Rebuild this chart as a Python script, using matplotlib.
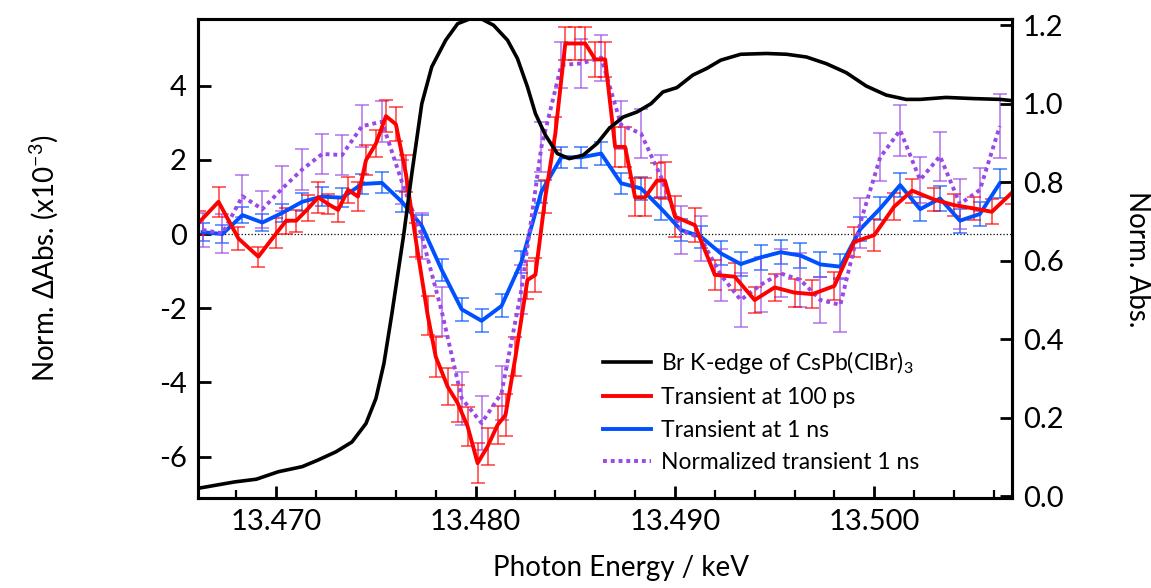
import numpy as np
import matplotlib
matplotlib.use("Agg")
import matplotlib.pyplot as plt
from matplotlib.ticker import MultipleLocator, FormatStrFormatter

plt.rcParams['font.family'] = ['Lato', 'DejaVu Sans']
plt.rcParams['mathtext.fontset'] = 'custom'
plt.rcParams['mathtext.rm'] = 'Lato'
plt.rcParams['mathtext.default'] = 'regular'
plt.rcParams['axes.unicode_minus'] = False

# Br K-edge static absorption (right axis)
E_edge = [13.4661, 13.4679, 13.4690, 13.4701, 13.4713, 13.4721, 13.4730, 13.4738,
          13.4745, 13.4750, 13.4754, 13.4758, 13.4764, 13.4768, 13.4773, 13.4778,
          13.4785, 13.4791, 13.4797, 13.4803, 13.4809, 13.4816, 13.4821, 13.4826,
          13.4830, 13.4835, 13.4841, 13.4847, 13.4854, 13.4861, 13.4867, 13.4874,
          13.4881, 13.4888, 13.4894, 13.4901, 13.4909, 13.4916, 13.4923, 13.4933,
          13.4946, 13.4956, 13.4966, 13.4976, 13.4986, 13.4996, 13.5006, 13.5016,
          13.5023, 13.5036, 13.5050, 13.5063, 13.5069]
A_edge = [0.020, 0.036, 0.043, 0.062, 0.075, 0.092, 0.113, 0.138,
          0.185, 0.249, 0.338, 0.465, 0.669, 0.822, 1.000, 1.094,
          1.162, 1.204, 1.216, 1.216, 1.200, 1.162, 1.115, 1.043,
          0.975, 0.920, 0.873, 0.860, 0.869, 0.899, 0.937, 0.966,
          0.979, 1.000, 1.030, 1.041, 1.073, 1.090, 1.111, 1.126,
          1.128, 1.126, 1.119, 1.102, 1.079, 1.045, 1.022, 1.011,
          1.011, 1.016, 1.013, 1.011, 1.008]

# transient at 100 ps
E_100ps = [13.4661, 13.4671, 13.4681, 13.4691, 13.4700, 13.4705, 13.4710, 13.4716,
           13.4721, 13.4726, 13.4731, 13.4736, 13.4741, 13.4745, 13.4750, 13.4755,
           13.4760, 13.4765, 13.4770, 13.4776, 13.4780, 13.4786, 13.4791, 13.4796,
           13.4801, 13.4806, 13.4811, 13.4815, 13.4820, 13.4826, 13.4830, 13.4835,
           13.4840, 13.4845, 13.4850, 13.4855, 13.4860, 13.4865, 13.4870, 13.4875,
           13.4880, 13.4885, 13.4891, 13.4895, 13.4900, 13.4910, 13.4920, 13.4930,
           13.4940, 13.4950, 13.4960, 13.4969, 13.4980, 13.4990, 13.5000, 13.5010,
           13.5019, 13.5030, 13.5040, 13.5050, 13.5059, 13.5069]
dA_100ps = [0.30, 0.87, -0.12, -0.61, 0.02, 0.36, 0.36, 0.69,
            0.99, 0.81, 0.65, 1.19, 1.01, 1.99, 2.44, 3.18,
            2.96, 1.63, -0.16, -2.20, -3.31, -4.12, -4.56, -5.19,
            -6.18, -5.73, -5.15, -4.88, -3.31, -1.24, -1.10, 1.01,
            2.71, 5.14, 5.14, 5.14, 4.71, 4.71, 2.35, 2.35,
            0.99, 0.99, 1.44, 1.44, 0.47, 0.24, -1.10, -1.15,
            -1.78, -1.44, -1.58, -1.62, -1.40, -0.21, -0.03, 0.74,
            1.17, 0.93, 0.78, 0.69, 0.60, 1.11]
err_100ps = [0.32, 0.40, 0.30, 0.27, 0.40, 0.35, 0.30, 0.35,
             0.42, 0.28, 0.32, 0.36, 0.40, 0.40, 0.36, 0.44,
             0.46, 0.50, 0.45, 0.52, 0.54, 0.50, 0.50, 0.52,
             0.54, 0.50, 0.50, 0.56, 0.52, 0.50, 0.45, 0.45,
             0.45, 0.45, 0.45, 0.45, 0.47, 0.47, 0.54, 0.54,
             0.51, 0.51, 0.48, 0.50, 0.56, 0.45, 0.40, 0.37,
             0.34, 0.37, 0.38, 0.38, 0.38, 0.40, 0.43, 0.37,
             0.32, 0.31, 0.30, 0.30, 0.34, 0.30]

# transient at 1 ns and its normalized version (same energies)
E_1ns = [13.4663, 13.4673, 13.4683, 13.4693, 13.4703, 13.4713, 13.4723, 13.4733,
         13.4743, 13.4753, 13.4763, 13.4773, 13.4783, 13.4793, 13.4803, 13.4813,
         13.4823, 13.4833, 13.4843, 13.4853, 13.4863, 13.4873, 13.4883, 13.4893,
         13.4903, 13.4913, 13.4923, 13.4933, 13.4943, 13.4953, 13.4963, 13.4973,
         13.4983, 13.4993, 13.5003, 13.5013, 13.5023, 13.5033, 13.5043, 13.5053,
         13.5063]
dA_1ns = [0.05, 0.00, 0.51, 0.31, 0.57, 0.87, 1.01, 0.98,
          1.35, 1.38, 0.87, 0.22, -0.97, -2.03, -2.34, -1.94,
          -0.75, 1.14, 2.07, 2.07, 2.17, 1.37, 1.23, 0.69,
          0.11, -0.07, -0.52, -0.81, -0.63, -0.49, -0.58, -0.82,
          -0.88, 0.13, 0.69, 1.32, 0.67, 0.96, 0.36, 0.54,
          1.37]
err_1ns = [0.25, 0.25, 0.22, 0.22, 0.24, 0.24, 0.26, 0.25,
           0.28, 0.28, 0.28, 0.30, 0.30, 0.31, 0.31, 0.31,
           0.30, 0.30, 0.28, 0.28, 0.30, 0.28, 0.30, 0.30,
           0.30, 0.30, 0.32, 0.32, 0.33, 0.33, 0.34, 0.33,
           0.33, 0.32, 0.32, 0.33, 0.32, 0.33, 0.32, 0.32,
           0.39]
dA_norm = [0.11, 0.02, 1.02, 0.67, 1.23, 1.74, 2.16, 2.13,
           2.91, 3.03, 1.41, -0.05, -2.09, -4.43, -5.10, -4.29,
           -1.50, 2.35, 4.56, 4.60, 4.76, 2.94, 2.71, 1.54,
           0.11, -0.12, -1.10, -1.78, -1.37, -1.06, -1.24, -1.78,
           -1.91, 0.30, 2.07, 2.80, 1.46, 2.10, 0.81, 1.19,
           2.91]
err_norm = [0.47, 0.52, 0.56, 0.50, 0.60, 0.56, 0.54, 0.54,
            0.56, 0.56, 0.60, 0.62, 0.67, 0.72, 0.72, 0.72,
            0.67, 0.67, 0.62, 0.67, 0.62, 0.65, 0.65, 0.58,
            0.64, 0.60, 0.70, 0.72, 0.74, 0.65, 0.74, 0.63,
            0.72, 0.67, 0.65, 0.69, 0.62, 0.66, 0.67, 0.58,
            0.86]

red = '#ff0000'
blue = '#0050ff'
purple = '#9a48e6'

fig = plt.figure(figsize=(11.51, 5.88), dpi=100)
ax = fig.add_axes([0.172, 0.153, 0.7072, 0.8141])
ax2 = ax.twinx()

ax.axhline(0, color='k', lw=0.9, ls=':', zorder=1)

ax.errorbar(E_1ns, dA_1ns, yerr=err_1ns, fmt='none', ecolor=blue, alpha=0.7,
            elinewidth=1.2, capsize=5, capthick=1.2, zorder=2)
ax.errorbar(E_1ns, dA_norm, yerr=err_norm, fmt='none', ecolor=purple, alpha=0.7,
            elinewidth=1.2, capsize=5, capthick=1.2, zorder=2)
ax.errorbar(E_100ps, dA_100ps, yerr=err_100ps, fmt='none', ecolor=red, alpha=0.7,
            elinewidth=1.2, capsize=5, capthick=1.2, zorder=2)

l_blue, = ax.plot(E_1ns, dA_1ns, color=blue, lw=2.8, zorder=3,
                  label='Transient at 1 ns')
l_norm, = ax.plot(E_1ns, dA_norm, color=purple, lw=2.8, ls=(0, (1, 1)), zorder=3,
                  label='Normalized transient 1 ns')
l_red, = ax.plot(E_100ps, dA_100ps, color=red, lw=2.8, zorder=4,
                 label='Transient at 100 ps')
l_edge, = ax2.plot(E_edge, A_edge, color='k', lw=2.6,
                   label='Br K-edge of CsPb(ClBr)$_3$')

ax.set_xlim(13.46607, 13.50691)
ax.set_ylim(-7.12, 5.79)
ax2.set_ylim(-0.005, 1.215)

ax.xaxis.set_major_locator(MultipleLocator(0.01))
ax.xaxis.set_minor_locator(MultipleLocator(0.002))
ax.xaxis.set_major_formatter(FormatStrFormatter('%.3f'))
ax.yaxis.set_major_locator(MultipleLocator(2))
ax2.yaxis.set_major_locator(MultipleLocator(0.2))
ax2.yaxis.set_major_formatter(FormatStrFormatter('%.1f'))

ax.tick_params(axis='both', which='major', direction='in', length=9, width=2,
               labelsize=21, pad=8, top=False)
ax.tick_params(axis='x', which='minor', direction='in', length=5.5, width=1.6,
               top=False)
ax2.tick_params(axis='y', direction='in', length=9, width=2, labelsize=21, pad=8)

for a in (ax, ax2):
    for s in a.spines.values():
        s.set_linewidth(2.2)

ax.set_xlabel('Photon Energy / keV', fontsize=20)
ax.xaxis.set_label_coords(0.52, -0.12)
ax.set_ylabel('Norm. ΔAbs. (x10$^{-3}$)', fontsize=20)
ax.yaxis.set_label_coords(-0.17, 0.5)
ax2.set_ylabel('Norm. Abs.', fontsize=20, rotation=270, va='bottom')
ax2.yaxis.set_label_coords(1.138, 0.5)

ax2.legend([l_edge, l_red, l_blue, l_norm],
           [l.get_label() for l in (l_edge, l_red, l_blue, l_norm)],
           loc='lower left', bbox_to_anchor=(0.483, 0.028), frameon=False,
           fontsize=16.5, handlelength=2.1, handletextpad=0.45,
           labelspacing=0.5, borderpad=0)

fig.savefig('out.png', dpi=100)
